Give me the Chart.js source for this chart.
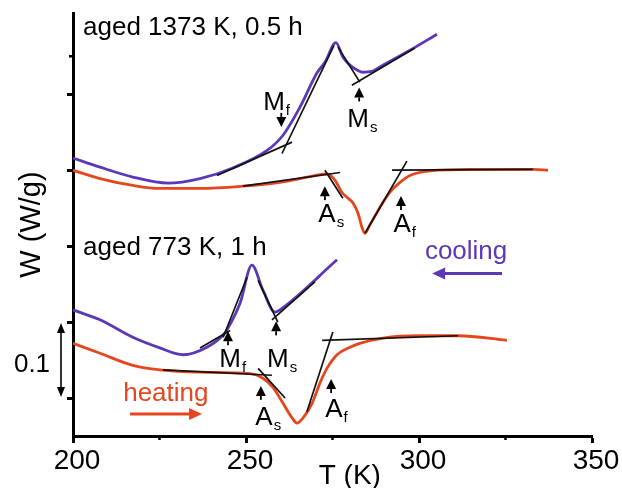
<!DOCTYPE html>
<html><head><meta charset="utf-8">
<script src="https://cdn.jsdelivr.net/npm/chart.js@4.4.1/dist/chart.umd.min.js"></script>
<style>html,body{margin:0;padding:0;background:#fff}</style>
</head><body>
<canvas id="c" width="622" height="488"></canvas>
<script>
// ---------- data (T in K, W in W/g, curves vertically offset) ----------
const tCool1373 = [200,207.8,217.3,227.5,236.7,246.2,256.1,260.7,265.6,270.5,272.8,276.0,278.0,280.1,282.1,283.8,286.4,288.7,297.4,305.2];
const wCool1373 = [0.316,0.304,0.291,0.283,0.289,0.303,0.326,0.346,0.383,0.428,0.442,0.468,0.449,0.438,0.432,0.429,0.430,0.436,0.458,0.479];
const tHeat1373 = [200,207.8,217.3,225.1,236.7,249.1,259.8,265.6,269.9,273.4,275.7,277.7,279.5,280.9,282.4,283.5,284.4,285.8,288.7,291.6,294.5,297.4,303.2,314.7,332.9,337.3];
const wHeat1373 = [0.300,0.289,0.280,0.276,0.276,0.279,0.284,0.289,0.293,0.295,0.287,0.271,0.263,0.257,0.243,0.225,0.217,0.228,0.251,0.271,0.284,0.293,0.299,0.301,0.301,0.300];
const tCool773 = [200,207.8,217.3,225.1,231.8,238.7,243.4,244.8,248.3,251.7,254.9,258.4,259.8,276.3];
const wCool773 = [0.116,0.103,0.080,0.066,0.057,0.067,0.083,0.092,0.125,0.175,0.142,0.113,0.116,0.182];
const tHeat773 = [200,207.8,217.3,225.1,236.7,251.2,254.9,257.8,260.7,263.3,264.7,266.5,269.1,271.4,273.4,276.3,280.1,282.9,289.6,300.3,311.3,325.4];
const wHeat773 = [0.072,0.059,0.043,0.037,0.034,0.032,0.026,0.014,-0.007,-0.026,-0.033,-0.026,-0.007,0.020,0.039,0.057,0.067,0.072,0.079,0.082,0.082,0.076];

// tangent construction lines (start/end T, start/end W)
const tangentT = [[241.6,263.3],[260.4,275.4],[276.6,282.9],[280.6,298.8],
  [249.1,277.2],[272.8,278.0],[284.4,296.5],[292.2,332.9],
  [236.7,245.4],[243.4,250.3],[253.5,259.2],[257.5,269.9],
  [226.0,257.5],[253.5,261.3],[267.6,275.1],[272.0,311.3]];
const tangentW = [[0.293,0.337],[0.322,0.464],[0.462,0.416],[0.412,0.461],
  [0.279,0.297],[0.300,0.263],[0.217,0.312],[0.300,0.301],
  [0.066,0.089],[0.080,0.159],[0.155,0.100],[0.103,0.153],
  [0.037,0.030],[0.039,0.000],[-0.018,0.087],[0.076,0.082]];

// transition temperature markers
const markLetters = ['M','M','A','A','M','M','A','A'];
const markSubs    = ['f','s','s','f','f','s','s','f'];
const markTipT    = [260.2,282.7,272.8,294.8,244.8,258.7,254.3,274.6];
const markTipW    = [0.357,0.409,0.279,0.266,0.088,0.101,0.016,0.025];

const xTickValues = [200,250,300,350];
const xMinorTicks = [225,275,325];
const yTickValues = [0,0.1,0.2,0.3,0.4];
const yMinorTicks = [0.45];

// ---------- layout / style config ----------
const FONT = '"Liberation Sans", Arial, sans-serif';
const PURPLE = '#5b38b8';
const ORANGE = '#e6461e';
const markLayout = [ // text centre T, text baseline W, arrow direction
  {tT:258.1, tW:0.379, dir:'down'}, {tT:282.4, tW:0.357, dir:'up'},
  {tT:273.4, tW:0.232, dir:'up'},   {tT:295.1, tW:0.218, dir:'up'},
  {tT:245.4, tW:0.041, dir:'up'},   {tT:259.2, tW:0.041, dir:'up'},
  {tT:255.2, tW:-0.036, dir:'up'},  {tT:275.4, tW:-0.025, dir:'up'}];

const pts = (ts, ws) => ts.map((t, i) => ({x: t, y: ws[i]}));
const curve = (ts, ws, color) => ({data: pts(ts, ws), borderColor: color, borderWidth: 2.8,
  pointRadius: 0, cubicInterpolationMode: 'monotone', fill: false, order: 2});
const datasets = [
  curve(tCool1373, wCool1373, PURPLE),
  curve(tHeat1373, wHeat1373, ORANGE),
  curve(tCool773, wCool773, PURPLE),
  curve(tHeat773, wHeat773, ORANGE)
];
tangentT.forEach((tt, i) => datasets.push({data: pts(tt, tangentW[i]), borderColor: '#111',
  borderWidth: 1.7, pointRadius: 0, tension: 0, fill: false, order: 1}));

function tri(ctx, x, y, dir, len, half) { // tip at (x,y); dir = +1 up-pointing, -1 down-pointing
  ctx.beginPath(); ctx.moveTo(x, y); ctx.lineTo(x - half, y + len * dir); ctx.lineTo(x + half, y + len * dir);
  ctx.closePath(); ctx.fill();
}
function hArrow(ctx, x1, x2, y, color, headAtEnd) {
  ctx.save(); ctx.strokeStyle = color; ctx.fillStyle = color; ctx.lineWidth = 2.8;
  ctx.beginPath();
  if (headAtEnd) { ctx.moveTo(x1, y); ctx.lineTo(x2 - 8, y); } else { ctx.moveTo(x1 + 8, y); ctx.lineTo(x2, y); }
  ctx.stroke();
  ctx.beginPath();
  if (headAtEnd) { ctx.moveTo(x2, y); ctx.lineTo(x2 - 13, y - 6); ctx.lineTo(x2 - 13, y + 6); }
  else { ctx.moveTo(x1, y); ctx.lineTo(x1 + 13, y - 6); ctx.lineTo(x1 + 13, y + 6); }
  ctx.closePath(); ctx.fill(); ctx.restore();
}

const annotations = {
  id: 'annotations',
  afterDraw(chart) {
    const {ctx, scales: {x, y}} = chart;
    ctx.save();
    ctx.fillStyle = '#000'; ctx.strokeStyle = '#000';
    // minor ticks
    ctx.lineWidth = 2.5;
    xMinorTicks.forEach(v => { const px = x.getPixelForValue(v); ctx.beginPath(); ctx.moveTo(px, y.bottom); ctx.lineTo(px, y.bottom + 4); ctx.stroke(); });
    yMinorTicks.forEach(v => { const py = y.getPixelForValue(v); ctx.beginPath(); ctx.moveTo(x.left, py); ctx.lineTo(x.left - 4, py); ctx.stroke(); });

    // scale bar (0.1 W/g)
    const xb = x.left - 12, y0 = y.getPixelForValue(0), y1 = y.getPixelForValue(0.1);
    ctx.lineWidth = 1.6;
    ctx.beginPath(); ctx.moveTo(xb, y1 + 6); ctx.lineTo(xb, y0 - 6); ctx.stroke();
    tri(ctx, xb, y1 + 1, 1, 10, 4); tri(ctx, xb, y0 - 1, -1, 10, 4);
    ctx.font = '26px ' + FONT; ctx.textAlign = 'center'; ctx.textBaseline = 'alphabetic';
    ctx.fillText('0.1', xb - 29, (y0 + y1) / 2 + 12);

    // titles & sample labels
    ctx.textAlign = 'left';
    ctx.font = '26px ' + FONT;
    ctx.fillText('aged 1373 K, 0.5 h', x.getPixelForValue(202.9), y.getPixelForValue(0.478));
    ctx.fillText('aged 773 K, 1 h', x.getPixelForValue(202.9), y.getPixelForValue(0.188));
    ctx.fillStyle = PURPLE;
    ctx.fillText('cooling', x.getPixelForValue(301.7), y.getPixelForValue(0.183));
    hArrow(ctx, x.getPixelForValue(303.8), x.getPixelForValue(324.0), y.getPixelForValue(0.164), PURPLE, false);
    ctx.fillStyle = ORANGE;
    ctx.fillText('heating', x.getPixelForValue(214.5), y.getPixelForValue(-0.004));
    hArrow(ctx, x.getPixelForValue(216.5), x.getPixelForValue(237.3), y.getPixelForValue(-0.021), ORANGE, true);

    // x-axis title
    ctx.fillStyle = '#000';
    ctx.font = '28px ' + FONT; ctx.textAlign = 'center';
    ctx.fillText('T (K)', x.getPixelForValue(280), y.bottom + 48);

    // transition markers
    markLetters.forEach((L, i) => {
      const m = markLayout[i];
      const tx = x.getPixelForValue(markTipT[i]), ty = y.getPixelForValue(markTipW[i]);
      const d = m.dir === 'up' ? 1 : -1;
      tri(ctx, tx, ty, d, 10, 5);
      ctx.fillRect(tx - 0.9, d > 0 ? ty + 10 : ty - 14, 1.8, 4);
      const cx = x.getPixelForValue(m.tT), by = y.getPixelForValue(m.tW);
      ctx.font = '26px ' + FONT; ctx.textAlign = 'left';
      const w = ctx.measureText(L).width;
      ctx.fillText(L, cx - w / 2, by);
      ctx.font = '15px ' + FONT;
      ctx.fillText(markSubs[i], cx + w / 2 + 1, by + 5);
    });
    ctx.restore();
  }
};

new Chart(document.getElementById('c'), {
  type: 'line',
  data: {datasets},
  options: {
    responsive: false, animation: false, devicePixelRatio: 1,
    layout: {padding: {left: 0, top: 13, right: 30, bottom: 0}},
    plugins: {legend: {display: false}, tooltip: {enabled: false}},
    scales: {
      x: {type: 'linear', min: 200, max: 350,
        afterBuildTicks: s => { s.ticks = xTickValues.map(v => ({value: v})); },
        afterFit: s => { s.height = 52; },
        ticks: {font: {family: FONT, size: 28}, color: '#000', padding: 1, labelOffset: 4, maxRotation: 0, autoSkip: false},
        grid: {drawOnChartArea: false, drawTicks: true, tickLength: 7, tickWidth: 3, tickColor: '#000'},
        border: {display: true, color: '#000', width: 3}
      },
      y: {type: 'linear', min: -0.05, max: 0.507,
        afterBuildTicks: s => { s.ticks = yTickValues.map(v => ({value: v})); },
        afterFit: s => { s.width = 73; },
        ticks: {display: false},
        grid: {drawOnChartArea: false, drawTicks: true, tickLength: 6, tickWidth: 3, tickColor: '#000'},
        border: {display: true, color: '#000', width: 3},
        title: {display: true, text: 'W (W/g)', color: '#000', font: {family: FONT, size: 29}, padding: {top: 15, bottom: 0}}
      }
    }
  },
  plugins: [annotations]
});
</script>
</body></html>
